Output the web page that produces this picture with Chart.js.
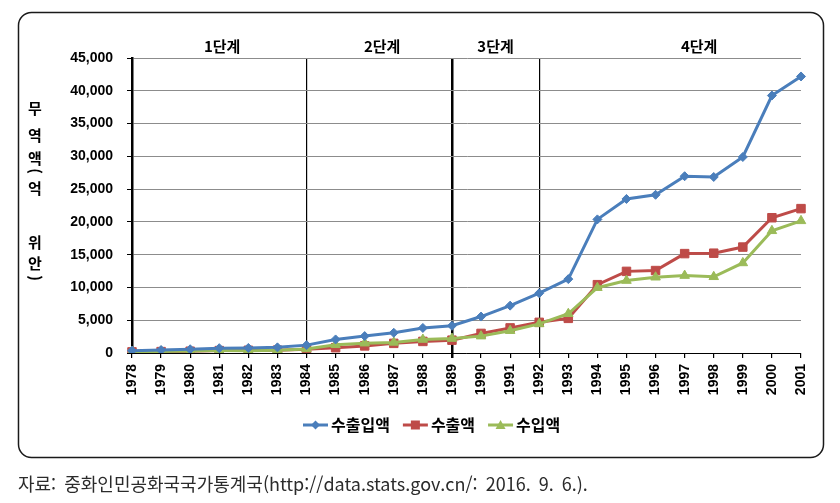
<!DOCTYPE html>
<html lang="ko">
<head>
<meta charset="UTF-8" />
<title>무역액 추이</title>
<style>
  html, body { margin: 0; padding: 0; background: #fff; }
  canvas { display: block; }
</style>
</head>
<body>
<canvas id="tradeChart" width="840" height="503"></canvas>
<script src="https://cdn.jsdelivr.net/npm/chart.js"></script>
<script>
// data (억 위안)
const years = ['1978','1979','1980','1981','1982','1983','1984','1985','1986','1987','1988','1989',
  '1990','1991','1992','1993','1994','1995','1996','1997','1998','1999','2000','2001'];
const totalTrade = [355, 455, 570, 735, 771, 860, 1201, 2067, 2580, 3084, 3822, 4156,
  5560, 7226, 9120, 11271, 20382, 23500, 24134, 26967, 26850, 29896, 39273, 42184];
const exportsAmt = [168, 212, 271, 368, 414, 438, 581, 809, 1082, 1470, 1767, 1956,
  2986, 3827, 4676, 5285, 10422, 12452, 12576, 15161, 15224, 16160, 20634, 22024];
const importsAmt = [187, 243, 299, 368, 358, 422, 621, 1258, 1498, 1614, 2055, 2200,
  2574, 3399, 4443, 5986, 9960, 11048, 11557, 11807, 11626, 13736, 18639, 20159];
const seriesNames = ['수출입액', '수출액', '수입액'];
const yMax = 45000;
const yStep = 5000;
const phaseBreaks = ['1984', '1989', '1992'];
const phaseNames = ['1단계', '2단계', '3단계', '4단계'];
const phaseCenters = [3.1, 8.6, 12.5, 19.5];
const yTitleChars = ['무', '역', '액', '(', '억', '위', '안', ')'];
const sourceText = '자료:  중화인민공화국국가통계국(http://data.stats.gov.cn/:  2016.  9.  6.).';

const colors = ['#4A7EBB', '#BE4B48', '#9BBB59'];
const numFont = "'Liberation Sans', Arial, sans-serif";
const krFont = "'Noto Sans CJK KR', sans-serif";

function drawMarker(ctx, style, x, y, color) {
  ctx.save();
  ctx.fillStyle = color;
  ctx.beginPath();
  if (style === 'rectRot') {
    ctx.moveTo(x, y - 4.5); ctx.lineTo(x + 4.5, y); ctx.lineTo(x, y + 4.5); ctx.lineTo(x - 4.5, y);
  } else if (style === 'rect') {
    ctx.rect(x - 4.5, y - 4.5, 9, 9);
  } else {
    ctx.moveTo(x, y - 5); ctx.lineTo(x + 5, y + 4); ctx.lineTo(x - 5, y + 4);
  }
  ctx.closePath();
  ctx.fill();
  ctx.restore();
}

const decor = {
  id: 'decor',
  beforeDraw(chart) {
    const ctx = chart.ctx;
    ctx.save();
    ctx.fillStyle = '#fff';
    ctx.fillRect(0, 0, chart.width, chart.height);
    // rounded frame
    ctx.strokeStyle = '#1a1a1a';
    ctx.lineWidth = 1.5;
    ctx.beginPath();
    ctx.roundRect(18.5, 12.5, 805, 445, 13);
    ctx.stroke();
    ctx.restore();
  },
  afterDraw(chart) {
    const ctx = chart.ctx;
    const xs = chart.scales.x;
    ctx.save();
    // phase labels
    ctx.fillStyle = '#000';
    ctx.font = 'bold 15px ' + krFont;
    ctx.textAlign = 'center';
    ctx.textBaseline = 'middle';
    phaseNames.forEach((name, i) => {
      ctx.fillText(name, xs.getPixelForValue(phaseCenters[i]), 46);
    });
    // y title, stacked
    ctx.font = 'bold 15px ' + krFont;
    const ty = [108, 135, 158, 171, 188, 242, 263, 278];
    yTitleChars.forEach((ch, i) => {
      if (ch === '(' || ch === ')') {
        ctx.save();
        ctx.translate(35, ty[i]);
        ctx.rotate(Math.PI / 2);
        ctx.fillText(ch, 0, 0);
        ctx.restore();
      } else {
        ctx.fillText(ch, 35, ty[i]);
      }
    });
    // legend
    ctx.font = 'bold 16px ' + krFont;
    ctx.textAlign = 'left';
    const styles = ['rectRot', 'rect', 'triangle'];
    let lx = 303;
    const ly = 425;
    seriesNames.forEach((name, i) => {
      ctx.strokeStyle = colors[i];
      ctx.lineWidth = 3;
      ctx.beginPath();
      ctx.moveTo(lx, ly);
      ctx.lineTo(lx + 25, ly);
      ctx.stroke();
      drawMarker(ctx, styles[i], lx + 12.5, ly, colors[i]);
      ctx.fillStyle = '#000';
      ctx.fillText(name, lx + 28, ly);
      lx += 28 + ctx.measureText(name).width + 13;
    });
    // source
    ctx.font = '18px ' + krFont;
    ctx.fillStyle = '#2b2b2b';
    ctx.fillText(sourceText, 18, 484);
    ctx.restore();
  }
};

new Chart(document.getElementById('tradeChart'), {
  type: 'line',
  data: {
    labels: years,
    datasets: [
      { label: seriesNames[0], data: totalTrade, borderColor: colors[0], backgroundColor: colors[0],
        pointStyle: 'rectRot', pointRadius: 4.5, order: 0 },
      { label: seriesNames[1], data: exportsAmt, borderColor: colors[1], backgroundColor: colors[1],
        pointStyle: 'rect', pointRadius: 6, order: 2 },
      { label: seriesNames[2], data: importsAmt, borderColor: colors[2], backgroundColor: colors[2],
        pointStyle: 'triangle', pointRadius: 5.5, order: 1 }
    ].map(d => Object.assign(d, { borderWidth: 3, pointBorderWidth: 1, tension: 0, fill: false }))
  },
  options: {
    responsive: false,
    animation: false,
    layout: { padding: { left: 0, top: 58, right: 39, bottom: 0 } },
    plugins: { legend: { display: false }, tooltip: { enabled: false } },
    scales: {
      x: {
        offset: false,
        border: { color: '#000', width: 1 },
        grid: {
          color: c => phaseBreaks.includes(years[c.index]) ? '#000' : 'rgba(0,0,0,0)',
          lineWidth: c => years[c.index] === '1989' ? 2.5 : 1.2,
          tickColor: '#000',
          tickLength: 5
        },
        ticks: {
          autoSkip: false, minRotation: 90, maxRotation: 90, padding: 6,
          color: '#000', font: { family: numFont, size: 14, weight: 'bold' }
        },
        afterFit: s => { s.height = 150; }
      },
      y: {
        min: 0, max: yMax,
        border: { color: '#000', width: 2.5 },
        grid: { color: '#8c8c8c', lineWidth: 1, tickColor: '#000', tickLength: 5 },
        ticks: {
          stepSize: yStep, padding: 14, color: '#000',
          font: { family: numFont, size: 14, weight: 'bold' },
          callback: v => v.toLocaleString('en-US')
        },
        afterFit: s => { s.width = 132; }
      }
    }
  },
  plugins: [decor]
});
</script>
</body>
</html>
